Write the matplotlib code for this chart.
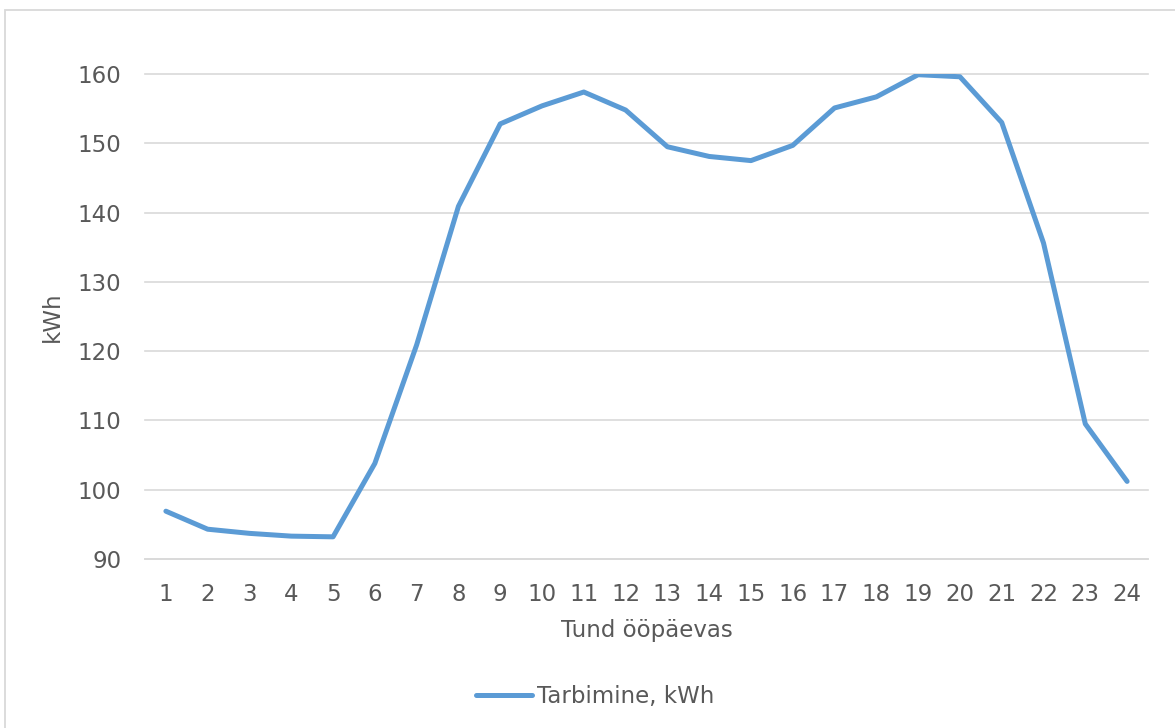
import matplotlib.pyplot as plt
from matplotlib.patches import Rectangle

# hourly consumption over one day
hours = list(range(1, 25))
consumption = [96.9, 94.3, 93.7, 93.3, 93.2, 103.8, 120.9, 140.9, 152.8, 155.4,
               157.4, 154.8, 149.5, 148.1, 147.5, 149.7, 155.1, 156.7, 159.9, 159.6,
               153.0, 135.6, 109.5, 101.2]
yticks = [90, 100, 110, 120, 130, 140, 150, 160]

txt = '#595959'
blue = '#5B9BD5'
grid = '#D9D9D9'
fs = 16.5

plt.rcParams['font.family'] = ['DejaVu Sans']

fig = plt.figure(figsize=(11.75, 7.28), dpi=100)
W, H = 1175, 728

# chart border (top and left edges visible)
fig.patches.append(Rectangle((5 / W, -0.1), 1.2, 1 - 10 / H + 0.1, transform=fig.transFigure,
                             fill=False, edgecolor=grid, linewidth=1.3))

ax = fig.add_axes([145 / W, 1 - 559 / H, (1148 - 145) / W, (559 - 74) / H])
line, = ax.plot(hours, consumption, color=blue, linewidth=3.6,
                solid_joinstyle='round', solid_capstyle='round', label='Tarbimine, kWh')

ax.set_xlim(0.5, 24.5)
ax.set_ylim(90, 160)
ax.set_yticks(yticks)
ax.set_xticks(hours)
ax.yaxis.grid(True, color=grid, linewidth=1.2)
for gl in ax.get_ygridlines():
    gl.set_clip_on(False)
ax.set_axisbelow(True)
for s in ax.spines.values():
    s.set_visible(False)
ax.spines['bottom'].set_visible(True)
ax.spines['bottom'].set_color(grid)
ax.spines['bottom'].set_linewidth(1.2)
ax.tick_params(length=0, labelsize=fs, labelcolor=txt)
ax.tick_params(axis='y', pad=17)
ax.tick_params(axis='x', pad=17)

ax.set_xlabel('Tund ööpäevas', fontsize=fs, color=txt, labelpad=10)
ax.set_ylabel('kWh', fontsize=fs, color=txt, labelpad=10)

fig.legend(handles=[line], loc='center', bbox_to_anchor=(595 / W, 1 - 697 / H),
           frameon=False, fontsize=fs, labelcolor=txt, handlelength=2.45,
           handletextpad=0.2)

fig.savefig('out.png', dpi=100)
